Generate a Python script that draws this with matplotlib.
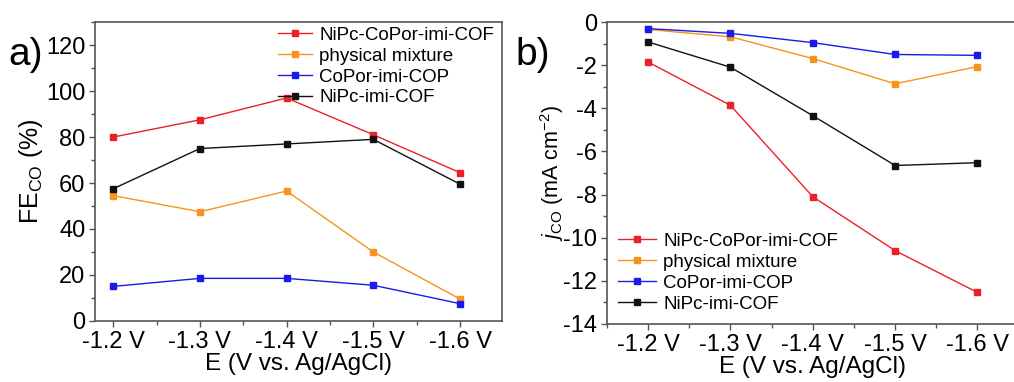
import matplotlib
matplotlib.use("Agg")
import matplotlib.pyplot as plt
from matplotlib.ticker import MultipleLocator

plt.rcParams['font.family'] = ['Liberation Sans', 'DejaVu Sans']
plt.rcParams['mathtext.fontset'] = 'custom'
plt.rcParams['mathtext.rm'] = 'Liberation Sans'
plt.rcParams['mathtext.it'] = 'Liberation Sans:italic'
plt.rcParams['axes.unicode_minus'] = False

categories = ['-1.2 V', '-1.3 V', '-1.4 V', '-1.5 V', '-1.6 V']
series_names = ['NiPc-CoPor-imi-COF', 'physical mixture', 'CoPor-imi-COP', 'NiPc-imi-COF']
colors = ['#ec2027', '#f7931e', '#1a1aeb', '#111111']

fe_nipc_copor = [80, 87.5, 97, 81, 64.5]
fe_mixture = [54.5, 47.5, 56.5, 30, 9.5]
fe_copor = [15, 18.5, 18.5, 15.5, 7.5]
fe_nipc = [57.5, 75, 77, 79, 59.5]

j_nipc_copor = [-1.85, -3.86, -8.1, -10.6, -12.54]
j_mixture = [-0.34, -0.68, -1.69, -2.86, -2.06]
j_copor = [-0.3, -0.52, -0.95, -1.5, -1.54]
j_nipc = [-0.92, -2.09, -4.34, -6.65, -6.52]

fig = plt.figure(figsize=(10.14, 3.82), dpi=100)
ax1 = fig.add_axes([0.0937, 0.160, 0.401, 0.782])
ax2 = fig.add_axes([0.5986, 0.152, 0.406, 0.790])

x = list(range(len(categories)))
spine_c = '#555555'

def style(ax):
    for s in ax.spines.values():
        s.set_color(spine_c)
        s.set_linewidth(1.2)
    ax.tick_params(which='both', direction='out', color=spine_c, labelsize=17, top=False, right=False)
    ax.tick_params(which='major', length=4, width=1, pad=3)
    ax.tick_params(which='minor', length=3, width=1)
    ax.set_xticks(x)
    ax.set_xticklabels(categories)
    ax.xaxis.set_minor_locator(MultipleLocator(0.5))

for vals, name, c in zip([fe_nipc_copor, fe_mixture, fe_copor, fe_nipc], series_names, colors):
    ax1.plot(x, vals, color=c, marker='s', markersize=5, linewidth=1, label=name)
ax1.set_xlim(-0.21, 4.48)
ax1.set_ylim(0, 130)
ax1.yaxis.set_major_locator(MultipleLocator(20))
ax1.yaxis.set_minor_locator(MultipleLocator(10))
style(ax1)
ax1.set_ylabel('FE$_{\\mathrm{CO}}$ (%)', fontsize=18, labelpad=1)
ax1.set_xlabel('E (V vs. Ag/AgCl)', fontsize=17.5, labelpad=0)
ax1.legend(loc='upper right', frameon=False, fontsize=13.5, handlelength=1.8,
           borderaxespad=0.0, labelspacing=0.2, handletextpad=0.4, markerscale=0.8,
           bbox_to_anchor=(1.0, 1.01))
fig.text(0.008, 0.83, 'a)', fontsize=28)

for vals, name, c in zip([j_nipc_copor, j_mixture, j_copor, j_nipc], series_names, colors):
    ax2.plot(x, vals, color=c, marker='s', markersize=5, linewidth=1, label=name)
ax2.set_xlim(-0.5, 4.5)
ax2.set_ylim(-14, 0)
ax2.yaxis.set_major_locator(MultipleLocator(2))
ax2.yaxis.set_minor_locator(MultipleLocator(1))
style(ax2)
ax2.set_ylabel('$j_{\\mathrm{CO}}$ (mA cm$^{-2}$)', fontsize=15.5, labelpad=-2)
ax2.set_xlabel('E (V vs. Ag/AgCl)', fontsize=17.5, labelpad=0)
ax2.legend(loc='lower left', frameon=False, fontsize=13.5, handlelength=2.0,
           borderaxespad=0.2, labelspacing=0.2, handletextpad=0.4, markerscale=0.8)
fig.text(0.508, 0.83, 'b)', fontsize=28)

fig.savefig('out.png', dpi=100)
